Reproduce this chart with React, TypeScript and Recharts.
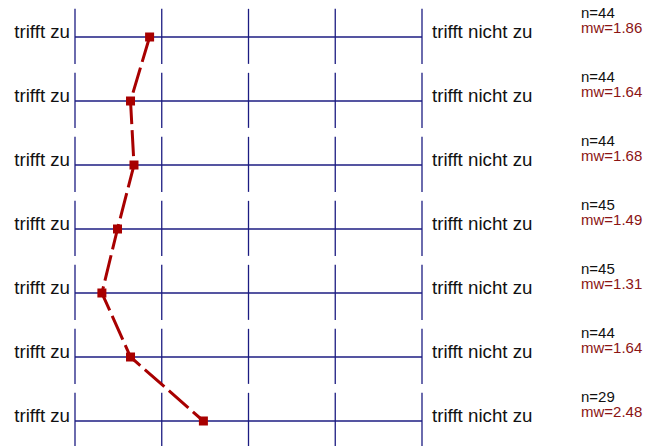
import React from "react";
import { LineChart, Line, XAxis, YAxis, ReferenceLine } from "recharts";

const rows = [0, 1, 2, 3, 4, 5, 6];
const means = [1.86, 1.64, 1.68, 1.49, 1.31, 1.64, 2.48];
const counts = [44, 44, 44, 45, 45, 44, 29];
const scalePoints = [1, 2, 3, 4, 5];
const leftLabel = "trifft zu";
const rightLabel = "trifft nicht zu";

const data = rows.map((r, i) => ({ row: r, value: means[i] }));

const NAVY = "#1c1c82";
const RED = "#a80000";
const FONT = "Arial, 'Liberation Sans', sans-serif";

function SquareDot(props: any) {
  const { cx, cy } = props;
  if (cx == null || cy == null) return null;
  return <rect x={cx - 4.5} y={cy - 4.5} width={9} height={9} fill={RED} />;
}

// one tick draws both row labels plus the n / mean notes on the right
function RowTick(props: any) {
  const { y, payload } = props;
  const i = payload.value;
  return (
    <g fontFamily={FONT}>
      <text x={70} y={y + 1} textAnchor="end" fontSize={18.7} fill="#111">
        {leftLabel}
      </text>
      <text x={432} y={y + 1} fontSize={18.7} fill="#111">
        {rightLabel}
      </text>
      <text x={581} y={y - 19.5} fontSize={15} fill="#111">
        {`n=${counts[i]}`}
      </text>
      <text x={581} y={y - 4} fontSize={15} fill="#8b1414">
        {`mw=${means[i].toFixed(2)}`}
      </text>
    </g>
  );
}

export default function App() {
  return (
    <div style={{ position: "absolute", left: 0, top: 0, width: 663, height: 446, overflow: "hidden", background: "#fff" }}>
      <LineChart
        width={663}
        height={460}
        data={data}
        layout="vertical"
        margin={{ top: 5, right: 241, bottom: 7, left: 0 }}
      >
        <XAxis type="number" domain={[1, 5]} hide />
        <YAxis
          type="number"
          dataKey="row"
          domain={[-0.5, 6.5]}
          ticks={rows}
          width={75}
          axisLine={false}
          tickLine={false}
          tick={<RowTick />}
        />
        {rows.map((r) => (
          <ReferenceLine
            key={`h-${r}`}
            segment={[
              { x: 1, y: r },
              { x: 5, y: r },
            ]}
            stroke={NAVY}
            strokeWidth={1.3}
          />
        ))}
        {rows.map((r) =>
          scalePoints.map((p) => (
            <ReferenceLine
              key={`v-${r}-${p}`}
              segment={[
                { x: p, y: r - 0.44 },
                { x: p, y: r + 0.42 },
              ]}
              stroke={NAVY}
              strokeWidth={1.3}
            />
          ))
        )}
        <Line
          dataKey="value"
          stroke={RED}
          strokeWidth={3}
          strokeDasharray="26 6"
          dot={<SquareDot />}
          activeDot={false}
          isAnimationActive={false}
        />
      </LineChart>
    </div>
  );
}
